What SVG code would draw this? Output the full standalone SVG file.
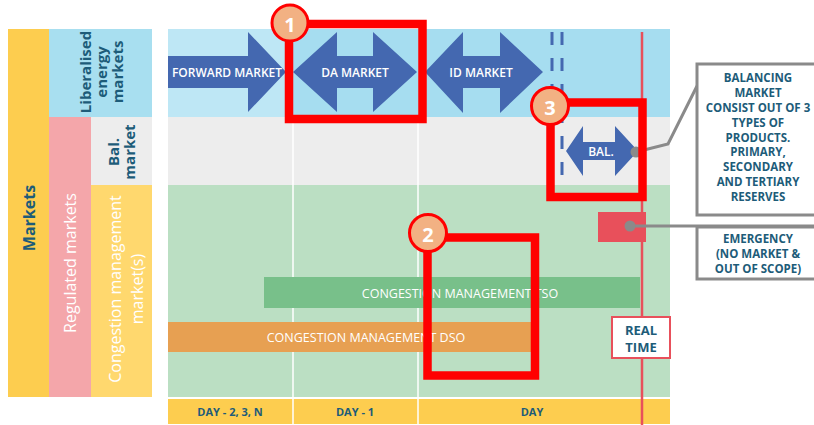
<svg xmlns="http://www.w3.org/2000/svg" width="814" height="425" viewBox="0 0 814 425">
<style>
  text { font-family: "Open Sans", "Noto Sans", "Liberation Sans", sans-serif; }
  .teal { fill: #1D5C79; font-weight: 700; }
  .wh { fill: #ffffff; }
  .arrow { fill: #4468B0; }
  .alab { fill: #ffffff; font-size: 12px; font-weight: 600; text-anchor: middle; dominant-baseline: central; }
  .bar { fill: #ffffff; font-size: 12.5px; text-anchor: middle; dominant-baseline: central; }
  .day { fill: #1D5C79; font-size: 11px; font-weight: 700; text-anchor: middle; dominant-baseline: central; }
  .note { fill: #1D5C79; font-size: 11.5px; font-weight: 700; text-anchor: middle; }
  .hl { fill: none; stroke: #FF0000; stroke-width: 8.5; }
  .badge { fill: #F2B183; stroke: #FF0000; stroke-width: 3; }
  .bnum { fill: #ffffff; font-size: 20px; font-weight: 700; text-anchor: middle; dominant-baseline: central; }
  .conn { fill: none; stroke: #8A8A8A; stroke-width: 3; }
  .grid { stroke: #ffffff; stroke-width: 1.5; }
</style>
<rect width="814" height="425" fill="#ffffff"/>

<!-- left category panel -->
<g id="cat-markets">
  <rect x="8" y="29" width="41" height="368" fill="#FDCD4F"/>
  <text class="teal" font-size="16" text-anchor="middle" dominant-baseline="central" transform="translate(29 218) rotate(-90)">Markets</text>
</g>
<g id="cat-liberalised">
  <rect x="49" y="29" width="103" height="88" fill="#A8DFF0"/>
  <g transform="translate(101 72) rotate(-90)" class="teal" font-size="15" text-anchor="middle" dominant-baseline="central">
    <text x="0" y="-16">Liberalised</text>
    <text x="0" y="0">energy</text>
    <text x="0" y="16">markets</text>
  </g>
</g>
<g id="cat-regulated">
  <rect x="49" y="117" width="42" height="280" fill="#F4A6AA"/>
  <text class="wh" font-size="16" text-anchor="middle" dominant-baseline="central" transform="translate(70 263) rotate(-90)">Regulated markets</text>
</g>
<g id="cat-bal">
  <rect x="91" y="117" width="61" height="68" fill="#EDEDED"/>
  <g transform="translate(121 152) rotate(-90)" class="teal" font-size="15" text-anchor="middle" dominant-baseline="central">
    <text x="0" y="-8">Bal.</text>
    <text x="0" y="8">market</text>
  </g>
</g>
<g id="cat-congestion">
  <rect x="91" y="185" width="61" height="212" fill="#FFD86E"/>
  <g transform="translate(126 289) rotate(-90)" class="wh" font-size="16" text-anchor="middle" dominant-baseline="central">
    <text x="0" y="-11">Congestion management</text>
    <text x="0" y="11">market(s)</text>
  </g>
</g>

<!-- chart background -->
<g id="chart-bg">
  <rect x="168" y="29" width="502" height="88" fill="#A6DDF0"/>
  <rect x="168" y="29" width="125" height="88" fill="#BEE7F5"/>
  <rect x="168" y="117" width="502" height="68" fill="#EDEDED"/>
  <rect x="168" y="185" width="502" height="212" fill="#BBDFC3"/>
  <rect x="168" y="399" width="502" height="25" fill="#FDCD4F"/>
  <line class="grid" x1="293" y1="117" x2="293" y2="424"/>
  <line class="grid" x1="418" y1="117" x2="418" y2="424"/>
</g>

<!-- day labels -->
<g id="days">
  <text class="day" x="230" y="411">DAY - 2, 3, N</text>
  <text class="day" x="355" y="411">DAY - 1</text>
  <text class="day" x="532" y="411">DAY</text>
</g>

<!-- market arrows -->
<g id="forward-market">
  <polygon class="arrow" points="168,56 248,56 248,32 286,72 248,112 248,88 168,88"/>
  <text class="alab" x="227" y="72">FORWARD MARKET</text>
</g>
<g id="da-market">
  <polygon class="arrow" points="293,72 337,32 337,56 373,56 373,32 417,72 373,112 373,88 337,88 337,112"/>
  <text class="alab" x="355" y="72">DA MARKET</text>
</g>
<g id="id-market">
  <polygon class="arrow" points="425,72 463,32 463,56 500,56 500,32 543,72 500,113 500,88 463,88 463,113"/>
  <text class="alab" x="481" y="72">ID MARKET</text>
</g>
<g id="gate-closure">
  <line x1="552" y1="32" x2="552" y2="117" stroke="#4468B0" stroke-width="3" stroke-dasharray="13 13"/>
  <line x1="562" y1="32" x2="562" y2="185" stroke="#4468B0" stroke-width="3" stroke-dasharray="13 13"/>
</g>
<g id="bal-market">
  <polygon class="arrow" points="566,151 583,126 583,142 615,142 615,126 638,151 615,176 615,160 583,160 583,176"/>
  <text class="alab" x="601" y="151" font-size="12.5" font-weight="400">BAL.</text>
</g>

<!-- congestion bars -->
<g id="cm-tso">
  <rect x="264" y="277" width="376" height="31" fill="#78C08A"/>
  <text class="bar" x="460" y="293">CONGESTION MANAGEMENT TSO</text>
</g>
<g id="cm-dso">
  <rect x="168" y="322" width="363" height="30" fill="#E7A052"/>
  <text class="bar" x="366" y="337">CONGESTION MANAGEMENT DSO</text>
</g>

<!-- emergency -->
<g id="emergency-block">
  <rect x="598" y="212" width="48" height="30" fill="#E8505B"/>
</g>

<!-- real time line -->
<g id="real-time">
  <line x1="642" y1="32" x2="642" y2="425" stroke="#E8505B" stroke-width="2.5"/>
  <rect x="612" y="317" width="58" height="41" fill="#ffffff" stroke="#E8505B" stroke-width="2"/>
  <text class="teal" font-size="13" text-anchor="middle" x="641" y="335">REAL</text>
  <text class="teal" font-size="13" text-anchor="middle" x="641" y="352">TIME</text>
</g>

<!-- connectors -->
<g id="connectors">
  <polyline class="conn" points="636,152 668,144 697,86"/>
  <circle cx="636" cy="152" r="5.5" fill="#8A8A8A"/>
  <line class="conn" x1="630" y1="226" x2="814" y2="226"/>
  <circle cx="630" cy="226" r="5.5" fill="#8A8A8A"/>
</g>

<!-- note boxes -->
<g id="note-balancing">
  <rect x="697" y="64" width="130" height="151" fill="#ffffff" stroke="#8A8A8A" stroke-width="3"/>
  <text class="note" x="758" y="82">BALANCING</text>
  <text class="note" x="758" y="97">MARKET</text>
  <text class="note" x="758" y="112">CONSIST OUT OF 3</text>
  <text class="note" x="758" y="127">TYPES OF</text>
  <text class="note" x="758" y="142">PRODUCTS.</text>
  <text class="note" x="758" y="156">PRIMARY,</text>
  <text class="note" x="758" y="171">SECONDARY</text>
  <text class="note" x="758" y="186">AND TERTIARY</text>
  <text class="note" x="758" y="201">RESERVES</text>
</g>
<g id="note-emergency">
  <rect x="697" y="227" width="130" height="52" fill="#ffffff" stroke="#8A8A8A" stroke-width="3"/>
  <text class="note" x="758" y="243">EMERGENCY</text>
  <text class="note" x="758" y="258">(NO MARKET &amp;</text>
  <text class="note" x="758" y="273">OUT OF SCOPE)</text>
</g>

<!-- highlight boxes -->
<g id="highlight-1">
  <rect class="hl" x="289" y="24" width="133.5" height="95"/>
  <circle class="badge" cx="290" cy="23" r="18"/>
  <text class="bnum" x="290" y="24">1</text>
</g>
<g id="highlight-2">
  <rect class="hl" x="427.5" y="237.5" width="107.5" height="138"/>
  <circle class="badge" cx="428" cy="233" r="18.5"/>
  <text class="bnum" x="428" y="234">2</text>
</g>
<g id="highlight-3">
  <rect class="hl" x="550.5" y="102.5" width="92" height="94.5"/>
  <circle class="badge" cx="550" cy="106" r="18.5"/>
  <text class="bnum" x="550" y="107">3</text>
</g>
</svg>
